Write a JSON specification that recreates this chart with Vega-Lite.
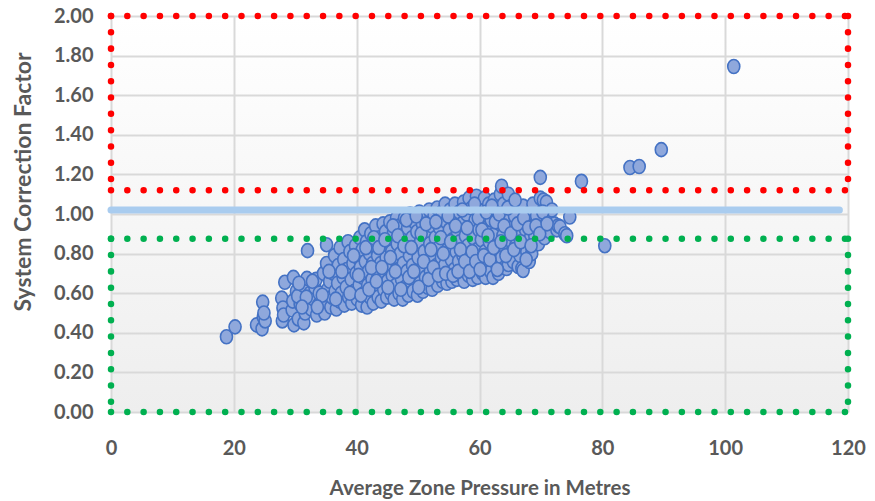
{
"$schema": "https://vega.github.io/schema/vega-lite/v6.json",
"width": 737, "height": 396,
"autosize": {"type": "none"},
"padding": {"left": 111, "top": 16, "right": 27, "bottom": 89},
"background": "#FFFFFF",
"config": {
  "view": {"stroke": null, "fill": {"gradient": "linear", "x1": 0, "y1": 0, "x2": 0, "y2": 1, "stops": [{"offset": 0, "color": "#FFFFFF"}, {"offset": 1, "color": "#EEEEEE"}]}},
  "axis": {"labelFont": "Lato", "labelFontWeight": "bold", "labelFontSize": 20, "labelColor": "#595959", "titleFont": "Lato", "titleFontWeight": "bold", "titleColor": "#595959", "gridColor": "#D9D9D9", "gridWidth": 2, "domain": false, "ticks": false, "tickSize": 0, "labelFlush": false, "labelOverlap": false}
},
"datasets": {
  "pts": [
    {"x":18.8,"y":0.38},{"x":20.2,"y":0.43},{"x":23.7,"y":0.44},{"x":24.6,"y":0.42},{"x":24.7,"y":0.555},{"x":24.8,"y":0.48},{"x":25.1,"y":0.46},{"x":24.9,"y":0.50},
    {"x":27.8,"y":0.575},{"x":27.9,"y":0.46},{"x":28.3,"y":0.655},{"x":28.0,"y":0.525},{"x":28.1,"y":0.49},{"x":29.7,"y":0.68},{"x":29.8,"y":0.44},{"x":29.5,"y":0.515},{"x":29.6,"y":0.56},{"x":30.2,"y":0.61},{"x":30.5,"y":0.47},{"x":30.8,"y":0.545},{"x":30.4,"y":0.585},
    {"x":31.4,"y":0.45},{"x":31.6,"y":0.50},{"x":31.3,"y":0.64},{"x":31.9,"y":0.675},{"x":32.0,"y":0.815},{"x":32.2,"y":0.55},{"x":32.4,"y":0.60},{"x":32.6,"y":0.52},{"x":33.0,"y":0.57},{"x":33.2,"y":0.63},{"x":33.5,"y":0.49},{"x":33.4,"y":0.67},{"x":33.8,"y":0.54},{"x":33.9,"y":0.60},
    {"x":34.6,"y":0.70},{"x":34.8,"y":0.50},{"x":35.1,"y":0.75},{"x":35.1,"y":0.845},{"x":34.9,"y":0.56},{"x":35.3,"y":0.62},{"x":35.6,"y":0.66},{"x":35.8,"y":0.53},{"x":36.0,"y":0.58},{"x":36.2,"y":0.70},{"x":36.4,"y":0.79},{"x":36.5,"y":0.61},{"x":36.7,"y":0.52},{"x":36.9,"y":0.65},{"x":37.0,"y":0.74},{"x":37.2,"y":0.56},{"x":37.3,"y":0.83},{"x":37.5,"y":0.60},{"x":37.8,"y":0.68},{"x":37.9,"y":0.77},{"x":38.0,"y":0.54},
    {"x":38.3,"y":0.63},{"x":38.4,"y":0.72},{"x":38.6,"y":0.86},{"x":38.7,"y":0.58},{"x":38.9,"y":0.81},{"x":39.1,"y":0.67},{"x":39.2,"y":0.55},{"x":39.4,"y":0.75},{"x":39.6,"y":0.61},{"x":39.8,"y":0.84},{"x":39.9,"y":0.70},{"x":40.1,"y":0.57},{"x":40.2,"y":0.78},{"x":40.4,"y":0.64},{"x":40.5,"y":0.88},{"x":40.6,"y":0.73},{"x":40.8,"y":0.54},{"x":40.9,"y":0.82},{"x":41.0,"y":0.68},{"x":41.2,"y":0.60},{"x":41.3,"y":0.92},{"x":41.4,"y":0.76},{"x":41.6,"y":0.86},{"x":41.7,"y":0.53},{"x":41.8,"y":0.64},{"x":41.9,"y":0.71},
    {"x":42.1,"y":0.80},{"x":42.2,"y":0.58},{"x":42.3,"y":0.90},{"x":42.5,"y":0.67},{"x":42.6,"y":0.75},{"x":42.7,"y":0.55},{"x":42.9,"y":0.84},{"x":43.0,"y":0.62},{"x":43.1,"y":0.94},{"x":43.3,"y":0.71},{"x":43.4,"y":0.79},{"x":43.5,"y":0.58},{"x":43.7,"y":0.88},{"x":43.8,"y":0.66},{"x":43.9,"y":0.75},{"x":44.0,"y":0.56},{"x":44.2,"y":0.83},{"x":44.3,"y":0.95},{"x":44.4,"y":0.62},{"x":44.5,"y":0.70},{"x":44.7,"y":0.91},{"x":44.8,"y":0.78},{"x":44.9,"y":0.58},{"x":45.0,"y":0.66},
    {"x":45.2,"y":0.86},{"x":45.3,"y":0.74},{"x":45.4,"y":0.96},{"x":45.6,"y":0.60},{"x":45.7,"y":0.81},{"x":45.8,"y":0.69},{"x":46.0,"y":0.91},{"x":46.1,"y":0.57},{"x":46.2,"y":0.77},{"x":46.4,"y":0.64},{"x":46.5,"y":0.98},{"x":46.6,"y":0.85},{"x":46.8,"y":0.72},{"x":46.9,"y":0.60},{"x":47.0,"y":0.94},{"x":47.1,"y":0.80},{"x":47.3,"y":0.67},{"x":47.4,"y":0.89},{"x":47.5,"y":0.57},{"x":47.6,"y":0.75},{"x":47.8,"y":0.98},{"x":47.9,"y":0.63},{"x":48.0,"y":0.84},
    {"x":48.2,"y":0.71},{"x":48.3,"y":0.93},{"x":48.4,"y":0.59},{"x":48.6,"y":0.79},{"x":48.7,"y":1.00},{"x":48.8,"y":0.66},{"x":49.0,"y":0.88},{"x":49.1,"y":0.74},{"x":49.2,"y":0.61},{"x":49.4,"y":0.96},{"x":49.5,"y":0.83},{"x":49.6,"y":0.69},{"x":49.8,"y":0.91},{"x":49.9,"y":0.59},{"x":50.0,"y":0.78},{"x":50.2,"y":1.01},{"x":50.3,"y":0.65},{"x":50.4,"y":0.86},{"x":50.6,"y":0.72},{"x":50.7,"y":0.95},{"x":50.8,"y":0.61},{"x":51.0,"y":0.81},{"x":51.1,"y":0.99},{"x":51.2,"y":0.68},
    {"x":51.4,"y":0.90},{"x":51.5,"y":0.76},{"x":51.6,"y":0.63},{"x":51.8,"y":1.02},{"x":51.9,"y":0.85},{"x":52.0,"y":0.71},{"x":52.2,"y":0.94},{"x":52.3,"y":0.62},{"x":52.4,"y":0.79},{"x":52.6,"y":0.99},{"x":52.7,"y":0.67},{"x":52.8,"y":0.88},{"x":53.0,"y":0.74},{"x":53.1,"y":1.03},{"x":53.2,"y":0.64},{"x":53.4,"y":0.83},{"x":53.5,"y":0.93},{"x":53.6,"y":0.70},{"x":53.8,"y":0.78},{"x":53.9,"y":1.01},{"x":54.0,"y":0.66},
    {"x":54.2,"y":0.88},{"x":54.3,"y":0.74},{"x":54.4,"y":1.05},{"x":54.6,"y":0.96},{"x":54.7,"y":0.65},{"x":54.8,"y":0.82},{"x":55.0,"y":0.70},{"x":55.1,"y":0.92},{"x":55.2,"y":1.02},{"x":55.4,"y":0.77},{"x":55.5,"y":0.66},{"x":55.6,"y":0.87},{"x":55.8,"y":0.97},{"x":55.9,"y":0.72},{"x":56.0,"y":1.05},{"x":56.2,"y":0.81},{"x":56.3,"y":0.67},{"x":56.4,"y":0.91},{"x":56.6,"y":0.76},{"x":56.7,"y":1.01},{"x":56.8,"y":0.86},{"x":57.0,"y":0.69},
    {"x":57.1,"y":0.95},{"x":57.3,"y":0.79},{"x":57.4,"y":1.06},{"x":57.5,"y":0.66},{"x":57.7,"y":0.89},{"x":57.8,"y":0.73},{"x":57.9,"y":1.00},{"x":58.1,"y":0.84},{"x":58.2,"y":0.69},{"x":58.3,"y":1.08},{"x":58.5,"y":0.93},{"x":58.6,"y":0.77},{"x":58.7,"y":1.03},{"x":58.9,"y":0.67},{"x":59.0,"y":0.88},{"x":59.1,"y":0.72},{"x":59.3,"y":0.97},{"x":59.5,"y":1.09},{"x":59.6,"y":0.82},{"x":59.7,"y":0.68},{"x":59.9,"y":0.92},
    {"x":60.0,"y":1.04},{"x":60.2,"y":0.76},{"x":60.3,"y":0.87},{"x":60.5,"y":0.70},{"x":60.6,"y":0.99},{"x":60.8,"y":1.08},{"x":60.9,"y":0.81},{"x":61.0,"y":0.68},{"x":61.2,"y":0.93},{"x":61.3,"y":0.74},{"x":61.5,"y":1.05},{"x":61.6,"y":0.86},{"x":61.8,"y":0.71},{"x":61.9,"y":0.97},{"x":62.1,"y":0.79},{"x":62.2,"y":0.68},{"x":62.4,"y":1.07},{"x":62.5,"y":0.90},{"x":62.7,"y":0.75},{"x":62.8,"y":1.02},
    {"x":63.0,"y":0.84},{"x":63.1,"y":0.70},{"x":63.3,"y":0.95},{"x":63.4,"y":1.10},{"x":63.6,"y":1.14},{"x":63.6,"y":0.78},{"x":63.8,"y":0.89},{"x":63.9,"y":1.05},{"x":64.1,"y":0.73},{"x":64.2,"y":0.83},{"x":64.4,"y":0.725},{"x":64.5,"y":0.98},{"x":64.7,"y":1.10},{"x":64.7,"y":0.745},{"x":64.9,"y":0.87},{"x":65.0,"y":0.80},{"x":65.2,"y":1.04},{"x":65.4,"y":0.93},{"x":65.5,"y":0.76},{"x":65.7,"y":0.99},{"x":65.9,"y":0.84},
    {"x":66.0,"y":1.05},{"x":66.3,"y":0.735},{"x":66.4,"y":0.90},{"x":66.6,"y":0.79},{"x":66.8,"y":0.96},{"x":66.9,"y":0.725},{"x":67.1,"y":1.04},{"x":67.1,"y":0.715},{"x":67.3,"y":0.86},{"x":67.5,"y":0.92},{"x":67.7,"y":0.81},{"x":67.9,"y":1.00},{"x":68.1,"y":0.76},{"x":68.3,"y":0.88},{"x":68.5,"y":0.80},{"x":68.7,"y":1.05},{"x":68.8,"y":0.94},
    {"x":69.0,"y":0.89},{"x":69.3,"y":0.99},{"x":69.6,"y":0.85},{"x":69.9,"y":1.08},{"x":69.9,"y":1.185},{"x":70.2,"y":0.93},{"x":70.4,"y":1.07},{"x":70.6,"y":0.88},{"x":70.9,"y":1.06},{"x":71.2,"y":0.98},{"x":71.5,"y":0.91},{"x":71.8,"y":1.02},{"x":72.2,"y":0.95},{"x":72.6,"y":0.92},{"x":72.8,"y":0.94},{"x":73.1,"y":0.935},{"x":73.9,"y":0.90},{"x":74.2,"y":0.89},{"x":74.7,"y":0.985},
    {"x":38.9,"y":0.60},{"x":39.5,"y":0.79},{"x":40.3,"y":0.69},{"x":40.7,"y":0.59},{"x":41.5,"y":0.83},{"x":42.0,"y":0.62},{"x":42.4,"y":0.73},{"x":42.8,"y":0.88},{"x":43.2,"y":0.66},{"x":43.6,"y":0.83},{"x":44.1,"y":0.73},{"x":44.6,"y":0.87},{"x":45.1,"y":0.63},{"x":45.5,"y":0.78},{"x":45.9,"y":0.94},{"x":46.3,"y":0.71},{"x":46.7,"y":0.89},{"x":47.2,"y":0.62},{"x":47.7,"y":0.84},{"x":48.1,"y":0.97},{"x":48.5,"y":0.68},{"x":48.9,"y":0.83},{"x":49.3,"y":0.71},{"x":49.7,"y":0.99},{"x":50.1,"y":0.63},{"x":50.5,"y":0.90},{"x":50.9,"y":0.76},{"x":51.3,"y":0.95},{"x":51.7,"y":0.67},{"x":52.1,"y":0.82},{"x":52.5,"y":0.73},{"x":52.9,"y":0.96},{"x":53.3,"y":0.69},{"x":53.7,"y":0.88},{"x":54.1,"y":0.80},{"x":54.5,"y":0.70},{"x":54.9,"y":0.99},{"x":55.3,"y":0.86},{"x":55.7,"y":0.69},{"x":56.1,"y":0.94},{"x":56.5,"y":0.71},{"x":56.9,"y":0.82},{"x":57.2,"y":1.02},{"x":57.6,"y":0.76},{"x":58.0,"y":0.93},{"x":58.4,"y":0.71},{"x":58.8,"y":0.81},{"x":59.2,"y":1.05},{"x":59.4,"y":0.76},{"x":59.8,"y":0.98},{"x":60.1,"y":0.72},{"x":60.4,"y":0.92},{"x":60.7,"y":0.79},{"x":61.1,"y":1.01},{"x":61.4,"y":0.89},{"x":61.7,"y":0.77},{"x":62.0,"y":1.04},{"x":62.3,"y":0.83},{"x":62.6,"y":0.96},{"x":62.9,"y":0.72},{"x":63.2,"y":1.00},{"x":63.5,"y":0.86},{"x":64.0,"y":0.94},{"x":64.3,"y":0.79},{"x":64.6,"y":1.03},{"x":65.1,"y":0.90},{"x":65.6,"y":0.82},{"x":65.8,"y":1.07},{"x":66.2,"y":0.95},{"x":66.7,"y":0.86},{"x":67.2,"y":0.98},{"x":67.6,"y":0.77},{"x":68.0,"y":0.93},{"x":68.4,"y":0.84},{"x":69.2,"y":0.94},{"x":69.8,"y":0.90},{"x":70.3,"y":1.01},{"x":71.0,"y":0.95},{"x":37.6,"y":0.71},{"x":36.6,"y":0.57},{"x":35.5,"y":0.71},{"x":34.4,"y":0.59},{"x":33.6,"y":0.53},{"x":32.8,"y":0.66},{"x":31.8,"y":0.58},{"x":31.1,"y":0.53},{"x":30.6,"y":0.65},
    {"x":76.6,"y":1.165},{"x":80.4,"y":0.84},{"x":84.5,"y":1.235},{"x":86.0,"y":1.24},{"x":89.6,"y":1.325},{"x":101.4,"y":1.745}
  ],
  "frames": [
    {"c":"red","x":0,"x2":120,"y":2,"y2":2},
    {"c":"red","x":0,"x2":120,"y":1.12,"y2":1.12},
    {"c":"red","x":0,"x2":0,"y":2,"y2":1.12},
    {"c":"red","x":120,"x2":120,"y":2,"y2":1.12},
    {"c":"green","x":0,"x2":120,"y":0.875,"y2":0.875},
    {"c":"green","x":0,"x2":120,"y":0,"y2":0},
    {"c":"green","x":0,"x2":0,"y":0.875,"y2":0},
    {"c":"green","x":120,"x2":120,"y":0.875,"y2":0}
  ],
  "base": [{"x":0,"x2":118.6,"y":1.02}]
},
"encoding": {
  "x": {"field": "x", "type": "quantitative", "scale": {"domain": [0, 120], "nice": false},
        "axis": {"values": [0, 20, 40, 60, 80, 100, 120], "title": "Average Zone Pressure in Metres", "titleFontSize": 20.5, "labelPadding": 26, "titleY": 76, "titleBaseline": "middle"}},
  "y": {"field": "y", "type": "quantitative", "scale": {"domain": [0, 2], "nice": false},
        "axis": {"values": [0, 0.2, 0.4, 0.6, 0.8, 1, 1.2, 1.4, 1.6, 1.8, 2], "format": ".2f", "title": "System Correction Factor", "titleFontSize": 23, "labelPadding": 18, "titleX": -88, "titleY": 165.5, "titleAngle": -90, "titleBaseline": "middle", "titleAlign": "center"}}
},
"layer": [
  {"data": {"name": "pts"},
   "mark": {"type": "point", "shape": "M -0.86 0 A 0.86 1 0 1 0 0.86 0 A 0.86 1 0 1 0 -0.86 0 Z", "size": 196, "filled": true, "fill": "#8FA8DC", "fillOpacity": 1, "stroke": "#4472C4", "strokeWidth": 1.6, "strokeOpacity": 1, "opacity": 1}},
  {"data": {"name": "base"},
   "mark": {"type": "rule", "color": "#A9CCEF", "strokeWidth": 7, "strokeCap": "round"},
   "encoding": {"x2": {"field": "x2"}}},
  {"data": {"name": "frames"},
   "mark": {"type": "rule", "strokeWidth": 6.5, "strokeDash": [0.01, 16.3], "strokeCap": "round"},
   "encoding": {"x2": {"field": "x2"}, "y2": {"field": "y2"},
     "color": {"field": "c", "type": "nominal", "scale": {"domain": ["red", "green"], "range": ["#FF0000", "#00B050"]}, "legend": null}}}
]
}
